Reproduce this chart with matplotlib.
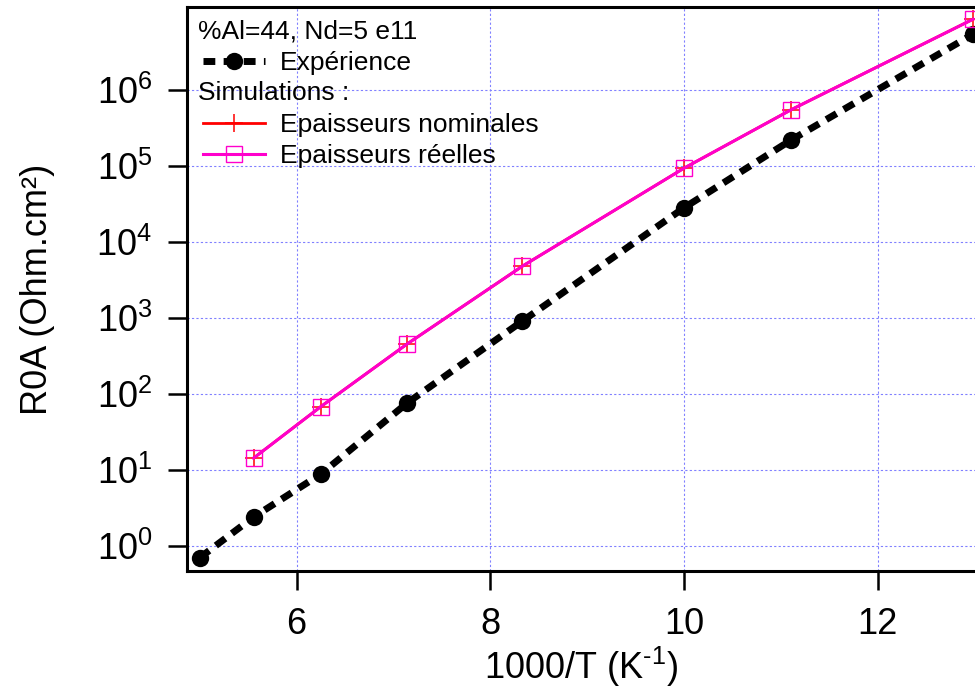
import matplotlib
matplotlib.use("Agg")
import matplotlib.pyplot as plt
from matplotlib.ticker import NullLocator, FixedLocator

plt.rcParams['font.family'] = ['Liberation Sans', 'DejaVu Sans']
plt.rcParams['mathtext.fontset'] = 'custom'
plt.rcParams['mathtext.rm'] = 'Liberation Sans'
plt.rcParams['mathtext.it'] = 'Liberation Sans:italic'
plt.rcParams['mathtext.bf'] = 'Liberation Sans:bold'

# ---- data ----
x_exp = [5.0, 5.556, 6.25, 7.143, 8.333, 10.0, 11.111, 12.987]
r0a_exp = [0.70, 2.4, 8.8, 76, 910, 2.8e4, 2.2e5, 5.4e6]

x_sim = [5.556, 6.25, 7.143, 8.333, 10.0, 11.111, 12.987]
r0a_nom = [14.3, 68, 455, 4800, 9.3e4, 5.5e5, 8.5e6]
r0a_reel = [14.3, 68, 455, 4800, 9.3e4, 5.5e5, 8.5e6]

x_ticks = [6, 8, 10, 12]
y_ticks = [1, 10, 100, 1e3, 1e4, 1e5, 1e6]

title_txt = "%Al=44, Nd=5 e11"
lab_exp = "Expérience"
lab_sim = "Simulations :"
lab_nom = "Epaisseurs nominales"
lab_reel = "Epaisseurs réelles"

# ---- figure ----
W, H = 975, 691
fig = plt.figure(figsize=(W / 100, H / 100), dpi=100)
ax = fig.add_axes([187 / W, (H - 571) / H, 788 / W, 564 / H])

grid_col = '#8080FF'
ax.set_yscale('log')
ax.set_xlim(4.868, 13.007)
ax.set_ylim(10 ** -0.33, 10 ** 7.09)

ax.xaxis.set_major_locator(FixedLocator(x_ticks))
ax.yaxis.set_major_locator(FixedLocator(y_ticks))
ax.yaxis.set_minor_locator(NullLocator())
ax.xaxis.set_minor_locator(NullLocator())

ax.grid(True, which='major', color=grid_col, linestyle=(0, (2, 2)), linewidth=0.8)
ax.set_axisbelow(True)

exp_line, = ax.plot(x_exp, r0a_exp, color='black', linewidth=5.0,
                    dashes=(1.7, 1.2), dash_capstyle='butt',
                    marker='o', markersize=12.5, markeredgewidth=0,
                    markerfacecolor='black', label=lab_exp, zorder=3)
nom_line, = ax.plot(x_sim, r0a_nom, color='#FF0000', linewidth=2.0,
                    marker='+', markersize=13, markeredgewidth=1.1,
                    label=lab_nom, zorder=4)
reel_line, = ax.plot(x_sim, r0a_reel, color='#FF00CC', linewidth=2.2,
                     marker='s', markersize=12, markerfacecolor='none',
                     markeredgecolor='#FF00CC', markeredgewidth=1.0,
                     label=lab_reel, zorder=5)

for sp in ['left', 'bottom', 'top']:
    ax.spines[sp].set_linewidth(2.2)
ax.spines['right'].set_visible(False)

ax.tick_params(axis='both', which='major', direction='out', length=14,
               width=1.8, labelsize=26, color='black')
ax.tick_params(axis='x', pad=12)
ax.tick_params(axis='y', pad=11)

ax.set_xlabel('1000/T (K$^{\\text{-1}}$)', fontsize=26, labelpad=2)
ax.set_ylabel('R0A (Ohm.cm²)', fontsize=26, labelpad=30)

# ---- legend-like block ----
fs_leg = 19
def row_y(py):
    return 1 - (py - 7) / 564

x0 = (198 - 187) / 788
ax.text(x0, row_y(31), title_txt, transform=ax.transAxes, fontsize=fs_leg,
        va='center', ha='left', zorder=10)
ax.text(x0, row_y(93), lab_sim, transform=ax.transAxes, fontsize=fs_leg,
        va='center', ha='left', zorder=10)

hx = (203 - 187) / 788
common = dict(loc='center left', frameon=False, fontsize=fs_leg,
              handlelength=2.35, handletextpad=0.55, borderpad=0,
              borderaxespad=0, numpoints=1)
leg1 = ax.legend(handles=[exp_line], bbox_to_anchor=(hx, row_y(63)), **common)
ax.add_artist(leg1)
leg2 = ax.legend(handles=[nom_line], bbox_to_anchor=(hx, row_y(125)), **common)
ax.add_artist(leg2)
leg3 = ax.legend(handles=[reel_line], bbox_to_anchor=(hx, row_y(156)), **common)

fig.savefig('out.png', dpi=100)
